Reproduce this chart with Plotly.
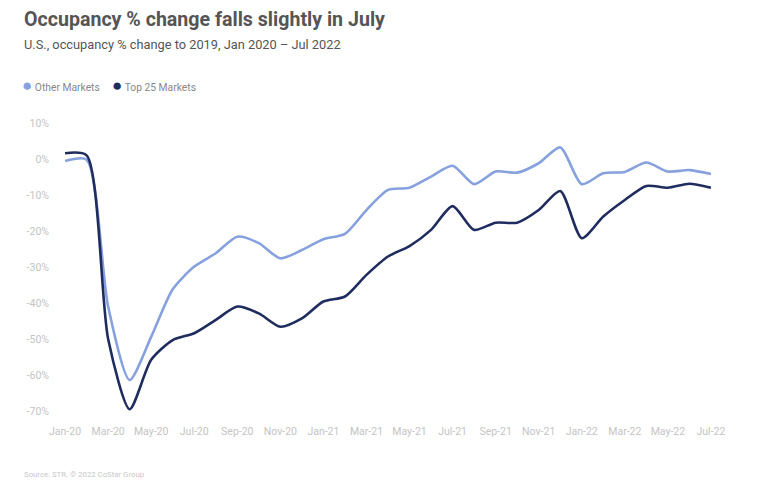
import plotly.graph_objects as go

months = ["Jan-20","Feb-20","Mar-20","Apr-20","May-20","Jun-20","Jul-20","Aug-20","Sep-20","Oct-20","Nov-20","Dec-20",
          "Jan-21","Feb-21","Mar-21","Apr-21","May-21","Jun-21","Jul-21","Aug-21","Sep-21","Oct-21","Nov-21","Dec-21",
          "Jan-22","Feb-22","Mar-22","Apr-22","May-22","Jun-22","Jul-22"]
other_markets = [-0.6, -0.2, -41.0, -61.4, -49.4, -36.2, -29.9, -26.2, -21.6, -23.4, -27.6, -25.3,
                 -22.3, -20.8, -14.2, -8.6, -8.0, -4.9, -1.9, -7.0, -3.5, -3.8, -1.2, 3.2,
                 -7.0, -4.0, -3.6, -1.0, -3.5, -3.1, -4.2]
top25_markets = [1.6, 1.0, -50.0, -69.5, -55.8, -50.3, -48.4, -44.7, -41.0, -42.9, -46.6, -44.3,
                 -39.6, -38.2, -32.2, -27.1, -24.2, -19.7, -13.1, -19.7, -17.7, -17.7, -14.2, -8.9,
                 -22.0, -16.0, -11.4, -7.5, -8.0, -6.9, -8.0]
ytick_vals = [10, 0, -10, -20, -30, -40, -50, -60, -70]
ytick_text = ["10%", "0%", "-10%", "-20%", "-30%", "-40%", "-50%", "-60%", "-70%"]
series_names = ["Other Markets", "Top 25 Markets"]

# The page body adds an 8px offset; the figure is sized so it ends at the window edge.
OFF = 8
W, H = 769 - OFF, 486 - OFF
L, R, T, B = 50 - OFF, 43, 115 - OFF, 66
pw, ph = W - L - R, H - T - B

def px_x(px):
    return (px - OFF - L) / pw

def px_y(py):
    return (H - B - (py - OFF)) / ph

colors = {"Other Markets": "#86A1DD", "Top 25 Markets": "#1F2D5E"}
idx = list(range(len(months)))
fig = go.Figure()
for name, vals in zip(series_names, [other_markets, top25_markets]):
    fig.add_trace(go.Scatter(x=idx, y=vals, name=name, mode="lines", showlegend=False,
                             line=dict(color=colors[name], width=2.6, shape="spline", smoothing=0.7)))

font_family = "Roboto"
annotations = [
    dict(text="<b>Occupancy % change falls slightly in July</b>", xref="paper", yref="paper",
         x=px_x(22), y=px_y(19.5), xanchor="left", yanchor="middle", showarrow=False,
         font=dict(size=19.6, color="#555555", family=font_family)),
    dict(text="U.S., occupancy % change to 2019, Jan 2020 – Jul 2022", xref="paper", yref="paper",
         x=px_x(22), y=px_y(44), xanchor="left", yanchor="middle", showarrow=False,
         font=dict(size=12.8, color="#555555", family=font_family)),
    dict(text="Source: STR. © 2022 CoStar Group", xref="paper", yref="paper",
         x=px_x(22), y=px_y(474), xanchor="left", yanchor="middle", showarrow=False,
         font=dict(size=7.8, color="#c8c8c8", family=font_family)),
]
legend_x = [20, 110]
for name, lx in zip(series_names, legend_x):
    annotations.append(dict(
        text=f"<span style='color:{colors[name]}; font-size:17px'>●</span> {name}",
        xref="paper", yref="paper", x=px_x(lx), y=px_y(85), xanchor="left", yanchor="middle",
        showarrow=False, font=dict(size=10.3, color="#888888", family=font_family)))

fig.update_layout(
    width=W, height=H,
    margin=dict(l=L, r=R, t=T, b=B, autoexpand=False),
    paper_bgcolor="white", plot_bgcolor="white",
    font=dict(family=font_family, color="#bbbbbb", size=11),
    showlegend=False,
    xaxis=dict(range=[-0.7, 30.7], tickvals=idx[::2], ticktext=months[::2],
               showgrid=False, zeroline=False, showline=False, ticks="", ticklabelstandoff=3,
               tickfont=dict(size=10.5, color="#c4c4c4")),
    yaxis=dict(range=[-72.5, 12.2], tickvals=ytick_vals, ticktext=ytick_text,
               showgrid=False, zeroline=False, showline=False, ticks="",
               tickfont=dict(size=10.5, color="#c4c4c4")),
    annotations=annotations,
)
fig.write_html("out.html")
